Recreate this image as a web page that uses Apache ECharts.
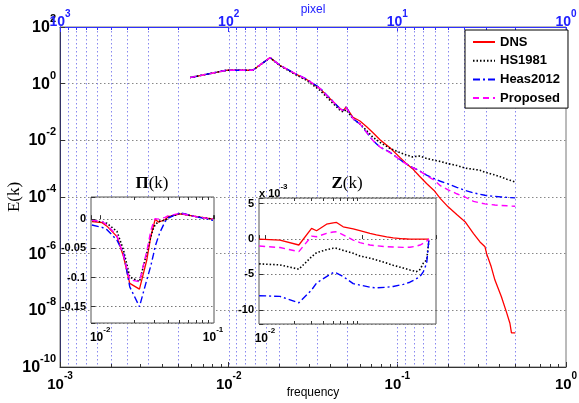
<!DOCTYPE html>
<html><head><meta charset="utf-8">
<script src="https://cdn.jsdelivr.net/npm/echarts@6/dist/echarts.min.js"></script>
<style>html,body{margin:0;padding:0;background:#fff}#c{width:579px;height:403px}</style>
</head><body><div id="c"></div>
<script>
// ---------- main spectrum E(k) ----------
const freq = [0.0059, 0.0097, 0.0139, 0.0176, 0.0201, 0.0247, 0.029, 0.0348, 0.0398, 0.0457, 0.0478, 0.0497, 0.0546, 0.060, 0.0658, 0.0715, 0.0789, 0.0904, 0.1035, 0.112, 0.123, 0.135, 0.149, 0.165, 0.18, 0.2, 0.225, 0.252, 0.283, 0.309, 0.331, 0.338, 0.36, 0.379, 0.414, 0.446, 0.465, 0.475, 0.5];
const dns = [1.64, 2.97, 2.97, 8.3, 4.46, 2.27, 1.40, 0.67, 0.30, 0.132, 0.112, 0.15, 0.065, 0.048, 0.030, 0.019, 0.0105, 0.0055, 0.0025, 0.0016, 0.0010, 5.5e-4, 3.0e-4, 1.7e-4, 8.8e-5, 4.5e-5, 2.4e-5, 1.35e-5, 5.1e-6, 2.6e-6, 1.75e-6, 1.02e-6, 3.5e-7, 1.17e-7, 3.0e-8, 7.8e-9, 3.5e-9, 1.6e-9, 1.6e-9];
const hs1981 = [1.64, 2.97, 2.97, 8.3, 4.3, 2.15, 1.30, 0.58, 0.26, 0.115, 0.10, 0.12, 0.058, 0.038, 0.022, 0.013, 0.0085, 0.0052, 0.0037, 0.0031, 0.0026, 0.0028, 0.0023, 0.0020, 0.0018, 0.0015, 0.0013, 0.00105, 0.00095, 0.00088, 0.00075, 0.00072, 0.00065, 0.0006, 0.0005, 0.00042, 0.00039, 0.00037, 0.00034];
const heas2012 = [1.64, 2.97, 2.97, 8.3, 4.5, 2.3, 1.45, 0.70, 0.31, 0.13, 0.115, 0.15, 0.058, 0.038, 0.019, 0.010, 0.0058, 0.0038, 0.0021, 0.0015, 0.0011, 0.00085, 0.00059, 0.00045, 0.00036, 0.00029, 0.00022, 0.00017, 0.00014, 0.000125, 0.000115, 0.000113, 0.000108, 0.000105, 0.0001, 0.000097, 0.000095, 0.000094, 0.000093];
const proposed = [1.64, 2.97, 2.97, 8.3, 4.5, 2.3, 1.42, 0.68, 0.30, 0.13, 0.112, 0.145, 0.058, 0.038, 0.019, 0.010, 0.0058, 0.0037, 0.0021, 0.0015, 0.0011, 0.00085, 0.00057, 0.00040, 0.00025, 0.00018, 0.00013, 0.0001, 0.00007, 0.000062, 0.000057, 0.000056, 0.000054, 0.000052, 0.00005, 0.000049, 0.000048, 0.000048, 0.000047];

// ---------- inset Pi(k) ----------
const piFreq = [0.00845, 0.0104, 0.0115, 0.0141, 0.0161, 0.0183, 0.0223, 0.0259, 0.0281, 0.0297, 0.0307, 0.0328, 0.034, 0.0376, 0.0402, 0.0511, 0.0718, 0.1];
const piDns  = [-0.004, -0.006, -0.012, -0.030, -0.064, -0.110, -0.120, -0.070, -0.030, -0.012, 0.0, -0.005, -0.007, -0.001, 0.0045, 0.009, 0.0045, 0.0];
const piHs   = [-0.002, -0.005, -0.007, -0.021, -0.053, -0.099, -0.107, -0.058, -0.030, -0.015, -0.010, -0.004, -0.003, -0.002, 0.003, 0.010, 0.004, 0.0];
const piHeas = [-0.010, -0.014, -0.018, -0.036, -0.058, -0.116, -0.150, -0.104, -0.080, -0.060, -0.047, -0.030, -0.022, -0.004, 0.002, 0.011, 0.004, -0.002];
const piProp = [-0.002, -0.004, -0.010, -0.028, -0.062, -0.104, -0.107, -0.055, -0.020, -0.005, 0.001, 0.0, 0.0, 0.003, 0.006, 0.010, 0.004, 0.0];

// ---------- inset Z(k)  (values in units of 1e-3) ----------
const zFreq = [0.00873, 0.0143, 0.0224, 0.0303, 0.0341, 0.0432, 0.0506, 0.0548, 0.0641, 0.0813, 0.0953, 0.121, 0.141, 0.18, 0.21, 0.267, 0.312, 0.364, 0.397, 0.43, 0.465, 0.49];
const zDns  = [0, -0.14, -0.84, 1.5, 1.17, 2.1, 2.3, 2.35, 1.73, 1.45, 1.2, 0.8, 0.6, 0.32, 0.18, 0.04, 0.0, 0.0, 0.0, 0.0, 0.0, 0.0];
const zHs   = [-3.5, -3.65, -4.26, -2.5, -1.92, -1.5, -1.3, -1.31, -1.6, -2.0, -2.4, -2.7, -2.95, -3.4, -3.7, -4.1, -4.36, -4.6, -4.3, -3.4, -2.95, -0.2];
const zHeas = [-8.0, -8.1, -9.0, -7.2, -6.2, -5.3, -4.74, -4.8, -5.3, -6.3, -6.5, -6.8, -6.9, -6.8, -6.7, -6.4, -6.1, -5.6, -5.3, -4.6, -3.4, -0.1];
const zProp = [-0.98, -1.2, -1.78, 0.42, 0.33, 0.8, 1.0, 1.03, 0.6, -0.14, -0.5, -0.84, -0.95, -1.08, -1.12, -1.17, -1.15, -1.0, -0.84, -0.6, -0.3, 0];

// ---------- ticks / grid ----------
const seriesNames = ['DNS', 'HS1981', 'Heas2012', 'Proposed'];
const pixelMinor = [900, 800, 700, 600, 500, 400, 300, 200, 90, 80, 70, 60, 50, 40, 30, 20, 9, 8, 7, 6, 5, 4, 3, 2];
const pixelMajorInner = [100, 10];
const freqMinor = [0.002, 0.003, 0.004, 0.005, 0.006, 0.007, 0.008, 0.009, 0.02, 0.03, 0.04, 0.05, 0.06, 0.07, 0.08, 0.09, 0.2, 0.3, 0.4, 0.5, 0.6, 0.7, 0.8, 0.9];
const insetMinor = [0.02, 0.03, 0.04, 0.05, 0.06, 0.07, 0.08, 0.09];
const piTickLabels = [0, -0.05, -0.1, -0.15];
const zTickLabels = [5, 0, -5, -10];

const SANS = '"Liberation Sans", Arial, sans-serif';
const SERIF = '"Liberation Serif", "Times New Roman", serif';
const zip = (xs, ys) => xs.map((x, i) => [x, ys[i]]);

function powFormatter(allowed) {
  return function (v) {
    const l = Math.log10(v), e = Math.round(l);
    if (Math.abs(l - e) > 1e-6) return '';
    if (allowed && allowed.indexOf(e) < 0) return '';
    return '{b|10}{s|' + e + '}';
  };
}
function richPow(size, sup, color) {
  return {
    b: { fontSize: size, fontWeight: 'bold', fontFamily: SANS, color: color, lineHeight: size + 6, verticalAlign: 'bottom' },
    s: { fontSize: sup, fontWeight: 'bold', fontFamily: SANS, color: color, lineHeight: sup, verticalAlign: 'top' }
  };
}
function listFormatter(list) {
  return function (v) {
    for (const t of list) if (Math.abs(v - t) < 1e-9) return String(t);
    return '';
  };
}

const styles = [
  { color: '#ff0000', width: 1.3, type: 'solid' },
  { color: '#000000', width: 1.6, type: [1.5, 2] },
  { color: '#0000ff', width: 1.4, type: [7, 3, 2, 3] },
  { color: '#ff00ff', width: 1.4, type: [6, 4] }
];

function lineSeries(name, xs, ys, k, xi, yi, z) {
  return {
    name: name, type: 'line', xAxisIndex: xi, yAxisIndex: yi, data: zip(xs, ys),
    symbol: 'none', showSymbol: false, z: z, silent: true, animation: false,
    lineStyle: { color: styles[k].color, width: styles[k].width, type: styles[k].type },
    itemStyle: { color: styles[k].color }
  };
}

function tickSeries(xi, yi, values, yRef, opt) {
  return {
    type: 'custom', xAxisIndex: xi, yAxisIndex: yi, z: opt.z, silent: true, animation: false,
    data: values.map(v => [v, yRef]),
    renderItem: function (params, api) {
      const cs = params.coordSys;
      const x = Math.round(api.coord([api.value(0), yRef])[0]) + 0.5;
      const st = { stroke: opt.color, lineWidth: 1, lineDash: opt.dash || null };
      const ch = [];
      if (opt.full) ch.push({ type: 'line', shape: { x1: x, y1: cs.y, x2: x, y2: cs.y + cs.height }, style: st });
      if (opt.bottom) ch.push({ type: 'line', shape: { x1: x, y1: cs.y + cs.height, x2: x, y2: cs.y + cs.height - opt.len }, style: st });
      if (opt.top) ch.push({ type: 'line', shape: { x1: x, y1: cs.y, x2: x, y2: cs.y + opt.len }, style: st });
      return { type: 'group', children: ch };
    }
  };
}

const insetAxisCommon = {
  z: 4,
  axisLine: { show: false },
  axisTick: { inside: true, length: 4, lineStyle: { color: '#333' } },
  splitLine: { show: false }
};

const option = {
  animation: false,
  backgroundColor: '#ffffff',
  grid: [
    { left: 60, top: 27, width: 506, height: 340, outerBoundsMode: 'none', containLabel: false, show: true, borderColor: '#777', borderWidth: 1, backgroundColor: 'transparent' },
    { left: 91, top: 197, width: 123, height: 126, outerBoundsMode: 'none', containLabel: false, show: true, borderColor: '#555', borderWidth: 1, backgroundColor: '#ffffff', z: 3 },
    { left: 259, top: 198, width: 177, height: 126, outerBoundsMode: 'none', containLabel: false, show: true, borderColor: '#555', borderWidth: 1, backgroundColor: '#ffffff', z: 3 }
  ],
  xAxis: [
    { gridIndex: 0, type: 'log', min: 0.001, max: 1, position: 'bottom',
      axisLine: { lineStyle: { color: '#333' } },
      axisTick: { inside: true, length: 5, lineStyle: { color: '#333' } },
      axisLabel: { formatter: powFormatter(), rich: richPow(15, 10, '#000'), margin: 4 },
      splitLine: { show: false },
      name: 'frequency', nameLocation: 'middle', nameGap: 20, nameMoveOverlap: false,
      nameTextStyle: { fontFamily: SANS, fontSize: 12, color: '#000' } },
    { gridIndex: 0, type: 'log', min: 1, max: 1000, inverse: true, position: 'top',
      axisLine: { lineStyle: { color: '#3030ff' } },
      axisTick: { inside: true, length: 5, lineStyle: { color: '#3030ff' } },
      axisLabel: { formatter: powFormatter(), rich: richPow(14, 10, '#2020ff'), margin: -2 },
      splitLine: { show: false },
      name: 'pixel', nameLocation: 'middle', nameGap: 11, nameMoveOverlap: false,
      nameTextStyle: { fontFamily: SANS, fontSize: 12, color: '#2020ff' } },
    Object.assign({ gridIndex: 1, type: 'log', min: 0.0083, max: 0.102, position: 'bottom',
      axisLabel: { formatter: powFormatter(), rich: richPow(12, 8, '#000'), margin: 3 } }, insetAxisCommon),
    Object.assign({ gridIndex: 2, type: 'log', min: 0.0087, max: 0.58, position: 'bottom',
      axisLabel: { formatter: powFormatter([-2]), rich: richPow(12, 8, '#000'), margin: 3 } }, insetAxisCommon)
  ],
  yAxis: [
    { gridIndex: 0, type: 'log', logBase: 100, min: 1e-10, max: 100,
      axisLine: { lineStyle: { color: '#333366' } },
      axisTick: { inside: true, length: 5, lineStyle: { color: '#333' } },
      axisLabel: { formatter: powFormatter(), rich: richPow(16, 11, '#000'), margin: 4, padding: [0, 0, 5, 0] },
      splitLine: { show: true, lineStyle: { type: [1.5, 2.5], color: '#888' } },
      name: 'E(k)', nameLocation: 'middle', nameGap: 37, nameMoveOverlap: false,
      nameTextStyle: { fontFamily: SERIF, fontSize: 17, color: '#000' } },
    { gridIndex: 1, type: 'value', min: -0.178, max: 0.038, splitNumber: 4, z: 4,
      axisLine: { show: false },
      axisTick: { inside: true, length: 4, lineStyle: { color: '#333' } },
      axisLabel: { formatter: listFormatter(piTickLabels), fontFamily: SANS, fontWeight: 'bold', fontSize: 11, color: '#000', margin: 5 },
      splitLine: { show: true, lineStyle: { type: [1.5, 2.5], color: '#777' } } },
    { gridIndex: 2, type: 'value', min: -12, max: 5.8, splitNumber: 4, z: 4,
      axisLine: { show: false },
      axisTick: { inside: true, length: 4, lineStyle: { color: '#333' } },
      axisLabel: { formatter: listFormatter(zTickLabels), fontFamily: SANS, fontWeight: 'bold', fontSize: 11, color: '#000', margin: 5 },
      splitLine: { show: true, lineStyle: { type: [1.5, 2.5], color: '#777' } } }
  ],
  legend: {
    data: seriesNames, orient: 'vertical', left: 465, top: 30,
    padding: [5, 8, 3, 7], itemGap: 4.7, itemWidth: 22, itemHeight: 14,
    backgroundColor: '#ffffff', borderColor: '#000', borderWidth: 1, borderRadius: 0,
    selectedMode: false,
    itemStyle: { opacity: 0 },
    textStyle: { fontFamily: SANS, fontWeight: 'bold', fontSize: 13, color: '#000', lineHeight: 14 }
  },
  graphic: [
    { type: 'text', x: 152, y: 184, z: 10,
      style: { text: '{p|Π}{n|(k)}', textAlign: 'center', textVerticalAlign: 'middle',
        rich: { p: { fontFamily: SERIF, fontWeight: 'bold', fontSize: 17, fill: '#000' }, n: { fontFamily: SERIF, fontSize: 17, fill: '#000' } } } },
    { type: 'text', x: 347, y: 184, z: 10,
      style: { text: '{p|Z}{n|(k)}', textAlign: 'center', textVerticalAlign: 'middle',
        rich: { p: { fontFamily: SERIF, fontWeight: 'bold', fontSize: 17, fill: '#000' }, n: { fontFamily: SERIF, fontSize: 17, fill: '#000' } } } },
    { type: 'text', x: 259, y: 191, z: 10,
      style: { text: '{b|x 10}{s|-3}', textAlign: 'left', textVerticalAlign: 'middle',
        rich: { b: { fontFamily: SANS, fontWeight: 'bold', fontSize: 11, fill: '#000', lineHeight: 16, verticalAlign: 'bottom' },
                s: { fontFamily: SANS, fontWeight: 'bold', fontSize: 8, fill: '#000', lineHeight: 8, verticalAlign: 'top' } } } }
  ],
  series: [
    tickSeries(1, 0, pixelMinor.concat(pixelMajorInner), 1, { full: true, color: '#8888f0', dash: [1.5, 2.5], z: 1 }),
    tickSeries(0, 0, freqMinor, 1, { bottom: true, len: 3, color: '#333', z: 2 }),
    tickSeries(1, 0, pixelMinor, 1, { top: true, len: 3, color: '#3030ff', z: 2 }),
    lineSeries('DNS', freq, dns, 0, 0, 0, 2),
    lineSeries('HS1981', freq, hs1981, 1, 0, 0, 2),
    lineSeries('Heas2012', freq, heas2012, 2, 0, 0, 2),
    lineSeries('Proposed', freq, proposed, 3, 0, 0, 2),
    tickSeries(2, 1, insetMinor, 0, { top: true, bottom: true, len: 3, color: '#333', z: 6 }),
    tickSeries(3, 2, insetMinor, 0, { top: true, bottom: true, len: 3, color: '#333', z: 6 }),
    lineSeries('DNS', piFreq, piDns, 0, 2, 1, 5),
    lineSeries('HS1981', piFreq, piHs, 1, 2, 1, 5),
    lineSeries('Heas2012', piFreq, piHeas, 2, 2, 1, 5),
    lineSeries('Proposed', piFreq, piProp, 3, 2, 1, 5),
    lineSeries('DNS', zFreq, zDns, 0, 3, 2, 5),
    lineSeries('HS1981', zFreq, zHs, 1, 3, 2, 5),
    lineSeries('Heas2012', zFreq, zHeas, 2, 3, 2, 5),
    lineSeries('Proposed', zFreq, zProp, 3, 3, 2, 5)
  ]
};

const chart = echarts.init(document.getElementById('c'), null, { renderer: 'canvas' });
chart.setOption(option);
</script>
</body></html>
